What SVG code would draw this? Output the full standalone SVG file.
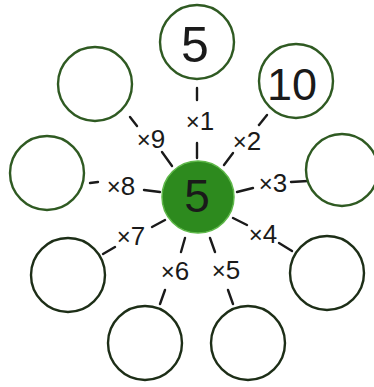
<svg xmlns="http://www.w3.org/2000/svg" width="374" height="387" viewBox="0 0 374 387">
<style>
.c{fill:#fff;stroke:#1d2e17;stroke-width:2.4}
.g{stroke:#2f5a22}
.l{stroke:#1a1a1a;stroke-width:2.4;stroke-linecap:round}
.t{font-family:"Liberation Sans",Arial,sans-serif;fill:#1a1a1a;text-anchor:middle}
.s{font-size:26px}
.x{font-size:24px}
</style>
<rect width="374" height="387" fill="#fff"/>
<g id="connectors">
<line class="l" x1="197" y1="88" x2="197" y2="100"/>
<line class="l" x1="197" y1="143" x2="197" y2="158"/>
<line class="l" x1="267" y1="115" x2="259" y2="125"/>
<line class="l" x1="233" y1="153" x2="224" y2="165"/>
<line class="l" x1="130" y1="117" x2="137" y2="126"/>
<line class="l" x1="162" y1="152" x2="172" y2="166"/>
<line class="l" x1="90" y1="183" x2="98" y2="182"/>
<line class="l" x1="144" y1="190" x2="160" y2="192"/>
<line class="l" x1="237" y1="192" x2="253" y2="188"/>
<line class="l" x1="291" y1="182" x2="308" y2="181"/>
<line class="l" x1="165" y1="220" x2="152" y2="227"/>
<line class="l" x1="115" y1="247" x2="103" y2="254"/>
<line class="l" x1="185" y1="238" x2="181" y2="252"/>
<line class="l" x1="165" y1="290" x2="160" y2="304"/>
<line class="l" x1="210" y1="238" x2="215" y2="252"/>
<line class="l" x1="228" y1="290" x2="233" y2="304"/>
<line class="l" x1="233" y1="218" x2="247" y2="225"/>
<line class="l" x1="279" y1="243" x2="292" y2="251"/>
</g>
<g id="labels">
<text class="t s" x="200" y="130"><tspan class="x">×</tspan>1</text>
<text class="t s" x="247" y="150"><tspan class="x">×</tspan>2</text>
<text class="t s" x="273" y="192"><tspan class="x">×</tspan>3</text>
<text class="t s" x="263" y="243"><tspan class="x">×</tspan>4</text>
<text class="t s" x="226" y="279"><tspan class="x">×</tspan>5</text>
<text class="t s" x="175" y="280"><tspan class="x">×</tspan>6</text>
<text class="t s" x="131" y="245"><tspan class="x">×</tspan>7</text>
<text class="t s" x="121" y="195"><tspan class="x">×</tspan>8</text>
<text class="t s" x="151" y="148"><tspan class="x">×</tspan>9</text>
</g>
<g id="center">
<circle cx="198" cy="197" r="36" fill="#2d8a1e" stroke="#5fb84a" stroke-width="1.5"/>
<text class="t" x="197" y="212" font-size="46" fill="#15240e">5</text>
</g>
<g id="n1"><circle class="c g" cx="197" cy="42" r="37"/><text class="t" x="195" y="62" font-size="50">5</text></g>
<g id="n2"><circle class="c g" cx="296" cy="81" r="37"/><text class="t" x="292" y="100" font-size="45">10</text></g>
<g id="n3"><circle class="c g" cx="342" cy="170" r="36"/></g>
<g id="n4"><circle class="c" cx="327" cy="273" r="37"/></g>
<g id="n5"><circle class="c" cx="248" cy="343" r="37"/></g>
<g id="n6"><circle class="c" cx="145" cy="343" r="37"/></g>
<g id="n7"><circle class="c" cx="68" cy="275" r="37"/></g>
<g id="n8"><circle class="c g" cx="47" cy="173" r="37"/></g>
<g id="n9"><circle class="c g" cx="95" cy="84" r="37"/></g>
</svg>
